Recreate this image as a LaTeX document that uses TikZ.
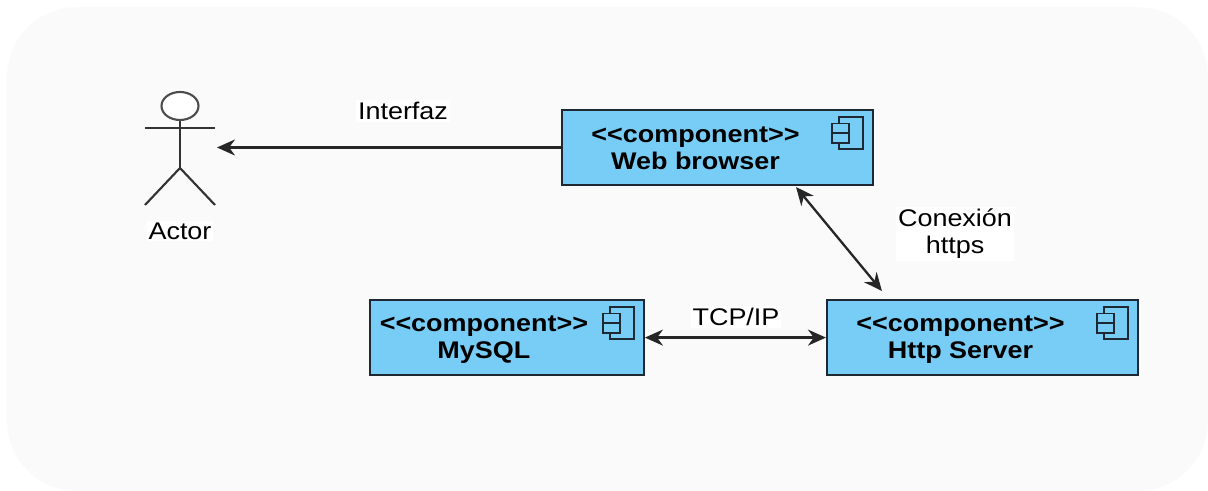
\documentclass[tikz,border=0pt]{standalone}
\usepackage{fontspec}
\setmainfont[FakeStretch=1.12]{Liberation Sans}
\usepackage{xcolor}
\usetikzlibrary{shapes.geometric, arrows.meta, positioning}
\definecolor{panelcolor}{RGB}{250, 250, 250}
\definecolor{compcolor}{RGB}{120, 205, 246}
\definecolor{darkline}{RGB}{30, 40, 50}
\tikzset{
    compicon/.pic={
        \draw[icon] (-0.7,-0.16) rectangle (-0.22,-0.8);
        \draw[icon, fill=compcolor] (-0.84,-0.29) rectangle (-0.5,-0.48);
        \draw[icon, fill=compcolor] (-0.84,-0.48) rectangle (-0.5,-0.68);
    }
}
\begin{document}
\begin{tikzpicture}[
    component/.style={draw=darkline, fill=compcolor, line width=1.2pt, minimum width=6.22cm, minimum height=1.5cm},
    icon/.style={draw=darkline, line width=0.9pt},
    comptext/.style={font=\fontsize{13.7pt}{15.3pt}\selectfont\bfseries, align=center, text=black},
    tag/.style={font=\fontsize{13.7pt}{15.3pt}\selectfont, align=center, text=black, fill=white, inner sep=1pt},
    arrow/.style={-{Stealth[length=0.36cm, width=0.32cm]}, line width=1.3pt, black!85},
    biarrow/.style={{Stealth[length=0.36cm, width=0.32cm]}-{Stealth[length=0.36cm, width=0.32cm]}, line width=1.3pt, black!85},
    limb/.style={line width=1.2pt, black!80}
]
    \useasboundingbox (0,0) rectangle (24.16,9.82);
    \fill[panelcolor, rounded corners=1.4cm] (0.14,0) rectangle (24.16,9.68);

    % Nodes - components
    \node[component] (web) at (14.35,6.87) {};
    \node[component, below=2.26cm of web, xshift=5.3cm] (http) {};
    \node[component, left=3.62cm of http, minimum width=5.48cm] (mysql) {};

    % Nodes - component texts
    \node[comptext] (webtext) at ([xshift=-0.44cm, yshift=-0.01cm]web.center) {<{}<component>{}>\\Web browser};
    \node[comptext] (httptext) at ([xshift=-0.44cm, yshift=-0.04cm]http.center) {<{}<component>{}>\\Http Server};
    \node[comptext] (mysqltext) at ([xshift=-0.46cm, yshift=-0.04cm]mysql.center) {<{}<component>{}>\\MySQL};

    % Icons
    \pic at (web.north east) {compicon};
    \pic at (http.north east) {compicon};
    \pic at (mysql.north east) {compicon};

    % Actor
    \node[draw=black!70, fill=white, ellipse, line width=1.2pt, minimum width=0.74cm, minimum height=0.56cm, inner sep=0pt] (head) at (3.6,7.7) {};
    \coordinate (hip) at (3.6,6.46);
    \draw[limb] (head.south) -- (hip);
    \draw[limb] (2.9,7.26) -- (4.3,7.26);
    \draw[limb] (2.9,5.72) -- (hip) -- (4.3,5.72);
    \node[tag] (actor) at (3.6,5.2) {Actor};

    % Arrow ends
    \coordinate (actortip) at (4.34,6.87);
    \coordinate (webend) at ([xshift=-1.56cm, yshift=-0.02cm]web.south east);
    \coordinate (httpend) at ([xshift=1.12cm, yshift=0.16cm]http.north west);

    % Arrows
    \draw[arrow] (web.west) -- (actortip);
    \draw[biarrow] (webend) -- (httpend);
    \draw[biarrow] (mysql.east) -- (http.west);

    % Labels
    \node[tag] (interfaz) at (8.06,7.6) {Interfaz};
    \node[tag] (conexion) at (19.1,5.14) {Conexión\\https};
    \node[tag] (tcpip) at (14.72,3.48) {TCP/IP};
\end{tikzpicture}
\end{document}
